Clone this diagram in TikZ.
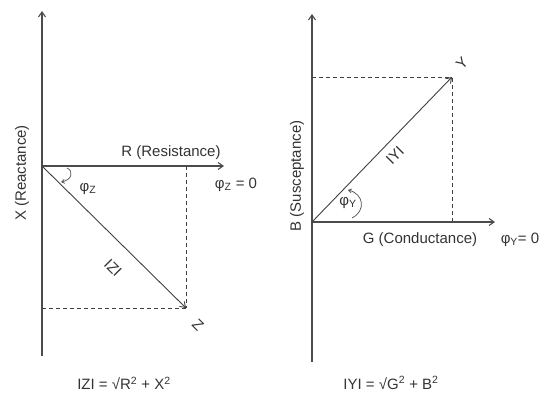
\documentclass[tikz,border=0pt]{standalone}
\usepackage{fontspec}
\setmainfont{Liberation Sans}
\usetikzlibrary{arrows.meta}
\begin{document}
\begin{tikzpicture}[x=1pt,y=-1pt,
  axisline/.style={draw=black!70, line width=1.1pt, -{Straight Barb[length=5pt,width=7pt]}},
  vecline/.style={draw=black!75, line width=0.9pt, -{Straight Barb[length=5pt,width=7pt]}},
  dashline/.style={draw=black!75, line width=1pt, dash pattern=on 4pt off 3pt},
  lbl/.style={font=\fontsize{15}{18}\selectfont, text=black!80, inner sep=0pt},
  anglearc/.style={draw=black!70, line width=0.7pt, -{Straight Barb[length=3pt,width=4pt]}}]
\useasboundingbox (0,0) rectangle (544,392);
% ---------- left diagram ----------
\coordinate (Ltop) at (42,11);
\coordinate (Lbot) at (42,356);
\coordinate (O1) at (42,166);
\coordinate (Rend) at (224,166);
\coordinate (Z) at (186,308);
\coordinate (Ztop) at (186,166);
\coordinate (Zleft) at (42,308);
\draw[axisline] (Lbot) -- (Ltop);
\draw[axisline] (O1) -- (Rend);
\draw[dashline] (Ztop) -- (Z);
\draw[dashline] (Zleft) -- (Z);
\draw[vecline] (O1) -- (Z);
\coordinate (a1s) at (67,168);
\coordinate (a1e) at (61,182);
\draw[anglearc] (a1s) .. controls (74,171) and (72,180) .. (a1e);
\node[lbl] (Rlab) at (171,153) {R (Resistance)};
\node[lbl, rotate=90] (Xlab) at (22,173) {X (Reactance)};
\node[lbl] (phiZ) at (88,189) {φ\textsubscript{Z}};
\node[lbl] (phiZ0) at (236,185) {φ\textsubscript{Z} = 0};
\node[lbl, rotate=-45] (magZ) at (113,268) {IZI};
\node[lbl, rotate=-45] (Zlab) at (198,325) {Z};
\node[lbl] (fZ) at (124,383) {IZI = √R\textsuperscript{2} + X\textsuperscript{2}};
% ---------- right diagram ----------
\coordinate (Rtop) at (312,14);
\coordinate (Rbot) at (312,362);
\coordinate (O2) at (312,222);
\coordinate (Gend) at (495,222);
\coordinate (Y) at (452,77);
\coordinate (Ybot) at (452,222);
\coordinate (Yleft) at (312,77);
\draw[axisline] (Rbot) -- (Rtop);
\draw[axisline] (O2) -- (Gend);
\draw[dashline] (Ybot) -- (Y);
\draw[dashline] (Yleft) -- (Y);
\draw[vecline] (O2) -- (Y);
\coordinate (a2s) at (352,218);
\coordinate (a2e) at (348,190);
\draw[anglearc] (a2s) .. controls (366,211) and (364,194) .. (a2e);
\node[lbl] (Glab) at (420,240) {G (Conductance)};
\node[lbl, rotate=90] (Blab) at (297,176) {B (Susceptance)};
\node[lbl] (phiY) at (348,203) {φ\textsubscript{Y}};
\node[lbl] (phiY0) at (520,240) {φ\textsubscript{Y}= 0};
\node[lbl, rotate=45] (magY) at (395,155) {IYI};
\node[lbl, rotate=45] (Ylab) at (462,63) {Y};
\node[lbl] (fY) at (391,383) {IYI = √G\textsuperscript{2} + B\textsuperscript{2}};
\end{tikzpicture}
\end{document}
